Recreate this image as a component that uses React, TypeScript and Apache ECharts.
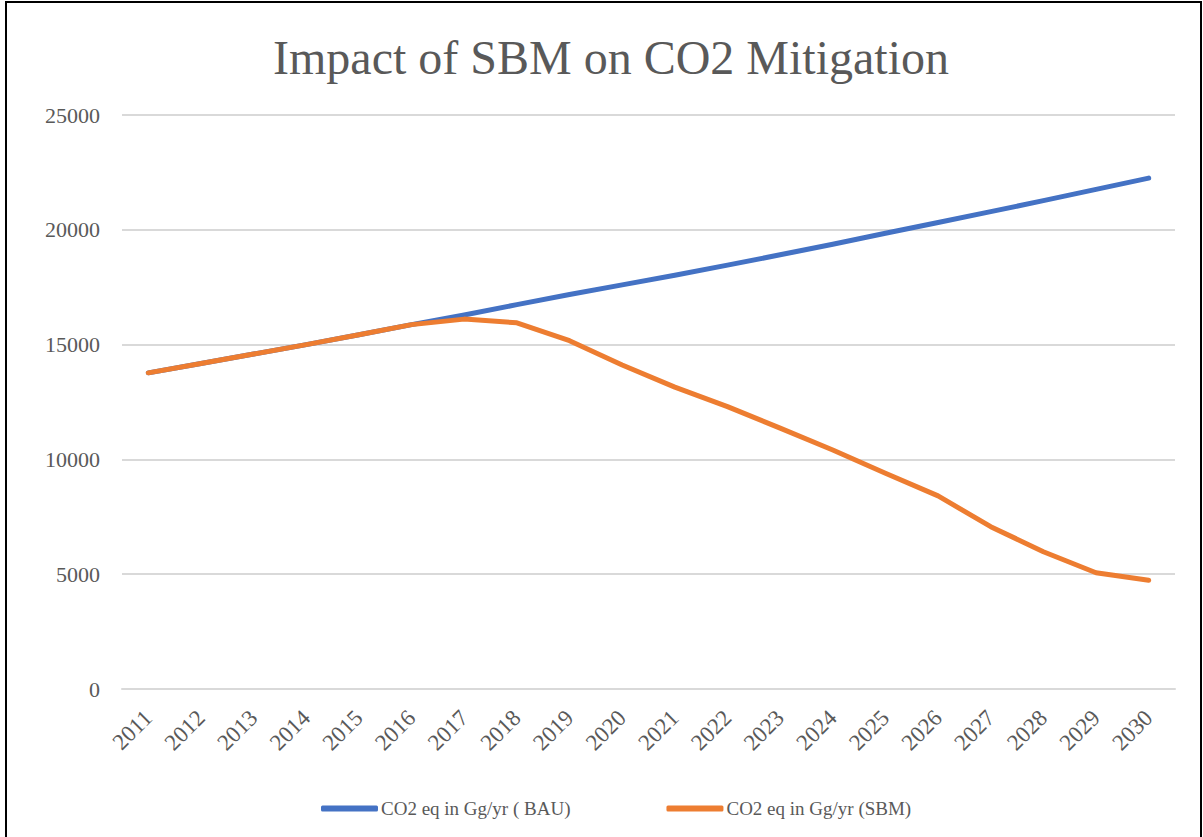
import React, { useEffect, useRef } from "react";
import * as echarts from "echarts";

const TITLE = "Impact of SBM on CO2 Mitigation";
const years = [
  "2011", "2012", "2013", "2014", "2015", "2016", "2017", "2018", "2019", "2020",
  "2021", "2022", "2023", "2024", "2025", "2026", "2027", "2028", "2029", "2030",
];
const bauName = "CO2 eq in Gg/yr ( BAU)";
const sbmName = "CO2 eq in Gg/yr (SBM)";
const bauValues = [
  13770, 14180, 14590, 15000, 15430, 15870, 16290, 16740, 17180, 17600,
  18020, 18460, 18910, 19370, 19850, 20320, 20790, 21270, 21760, 22250,
];
const sbmValues = [
  13770, 14180, 14590, 15000, 15430, 15870, 16110, 15950, 15170, 14110,
  13150, 12300, 11360, 10410, 9400, 8410, 7070, 5980, 5065, 4735,
];
const yTicks = { min: 0, max: 25000, interval: 5000 };

const FONT = "'Liberation Serif', 'DejaVu Serif', serif";
const GREY = "#595959";
const BLUE = "#4472C4";
const ORANGE = "#ED7D31";

export default function App() {
  const ref = useRef<HTMLDivElement>(null);
  useEffect(() => {
    if (!ref.current) return;
    const chart = echarts.init(ref.current, undefined, { renderer: "svg" });
    chart.setOption({
      animation: false,
      backgroundColor: "#ffffff",
      title: {
        text: TITLE,
        left: 606,
        textAlign: "center",
        top: 28,
        textStyle: { fontFamily: FONT, fontSize: 48, fontWeight: "normal", color: GREY },
      },
      graphic: [
        {
          type: "rect",
          shape: { x: 6, y: 2, width: 1195, height: 900 },
          style: { fill: "none", stroke: "#000000", lineWidth: 2 },
          silent: true,
        },
      ],
      legend: {
        top: 794,
        left: 316,
        itemWidth: 57,
        itemHeight: 6,
        itemGap: 96,
        textStyle: { fontFamily: FONT, fontSize: 19, color: GREY, padding: [0, 0, 0, -2] },
        data: [
          { name: bauName, icon: "roundRect", itemStyle: { color: BLUE } },
          { name: sbmName, icon: "roundRect", itemStyle: { color: ORANGE } },
        ],
      },
      grid: { left: 122, right: 28, top: 115, bottom: 148, containLabel: false },
      xAxis: {
        type: "category",
        data: years,
        boundaryGap: true,
        axisLine: { show: true, lineStyle: { color: "#D9D9D9", width: 2 } },
        axisTick: { show: false },
        axisLabel: {
          rotate: 45,
          interval: 0,
          fontFamily: FONT,
          fontSize: 23,
          color: GREY,
          margin: 25,
        },
      },
      yAxis: {
        type: "value",
        min: yTicks.min,
        max: yTicks.max,
        interval: yTicks.interval,
        axisLine: { show: false },
        axisTick: { show: false },
        splitLine: { lineStyle: { color: "#D9D9D9", width: 2 } },
        axisLabel: {
          fontFamily: FONT,
          fontSize: 22,
          color: GREY,
          margin: 22,
          formatter: (v: number) => String(v),
        },
      },
      series: [
        {
          name: bauName,
          type: "line",
          data: bauValues,
          symbol: "none",
          lineStyle: { color: BLUE, width: 5, cap: "round", join: "round" },
          itemStyle: { color: BLUE },
          z: 2,
        },
        {
          name: sbmName,
          type: "line",
          data: sbmValues,
          symbol: "none",
          lineStyle: { color: ORANGE, width: 5, cap: "round", join: "round" },
          itemStyle: { color: ORANGE },
          z: 3,
        },
      ],
    });
    return () => chart.dispose();
  }, []);
  return (
    <div
      ref={ref}
      style={{ position: "fixed", left: 0, top: 0, width: 1203, height: 837, background: "#fff" }}
    />
  );
}
